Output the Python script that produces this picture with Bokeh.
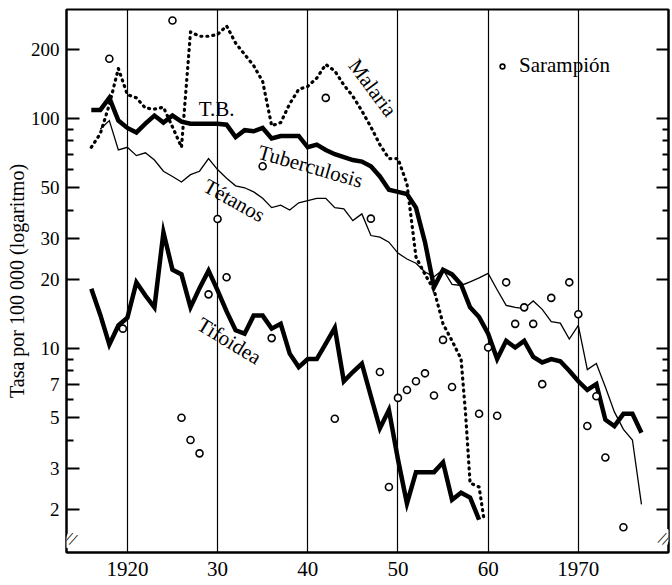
from bokeh.plotting import figure
from bokeh.models import (Range1d, FixedTicker, LogAxis, Label, Legend, LegendItem,
                          CustomJSTickFormatter)
from bokeh.embed import file_html
from bokeh.resources import INLINE

FONT = "Liberation Serif"

# ---------------- data ----------------
years_tb = list(range(1916, 1978))
tuberculosis = [109, 109, 123, 98, 91, 87, 95, 103, 96, 103,
                97, 95, 95, 95, 95, 94, 83, 89, 88, 91,
                82, 84, 84, 84, 75, 77, 73, 70, 68, 66,
                65, 62, 56, 49, 48, 47, 41, 29, 18.5, 22,
                21, 19, 15.1, 13.7, 11.6, 9.0, 10.8, 10.1, 10.8, 9.2,
                8.7, 9.0, 8.8, 8.0, 7.2, 6.6, 7.0, 4.9, 4.6, 5.2,
                5.2, 4.3]

years_tet = list(range(1917, 1978))
tetanos = [90, 98, 73, 75, 69, 71, 66, 59, 56, 53,
           57, 59, 67, 60, 55, 51, 50, 48, 45, 41,
           42, 40, 43, 44, 45, 45, 41, 40.5, 36, 38.5,
           31, 30.5, 29, 26, 24.5, 23.5, 21.5, 20.5, 22, 19,
           18.8, 19.5, 20.3, 21.2, 18, 15.4, 15.1, 14.9, 16.1, 14.8,
           13.1, 12.9, 11, 12.6, 8.1, 8.6, 6.8, 5.3, 4.45, 4.0,
           2.1]

years_mal = list(range(1916, 1958)) + [1957.5, 1958, 1959, 1959.5]
malaria = [75, 86, 115, 165, 127, 123, 111, 110, 112, 92,
           75, 238, 228, 228, 232, 253, 213, 190, 170, 145,
           93, 96, 116, 134, 138, 150, 172, 161, 140, 125,
           108, 92, 77, 67, 67, 52, 25, 21, 18, 12.8,
           10.8, 9.0, 5.2, 2.6, 2.5, 1.85]

years_tif = list(range(1916, 1960))
tifoidea = [18.2, 14, 10.4, 12.6, 13.6, 19.4, 17, 15.1, 32, 22,
            21, 15.1, 18.3, 21.8, 17.9, 14.5, 12, 11.6, 13.9, 13.9,
            12.2, 12.8, 9.5, 8.3, 9.0, 9.0, 10.5, 12.3, 7.2, 7.9,
            8.6, 6.2, 4.5, 5.4, 3.3, 2.12, 2.9, 2.9, 2.9, 3.2,
            2.2, 2.36, 2.25, 1.8]

years_sar = [1918, 1919.5, 1925, 1926, 1927, 1928, 1929, 1930, 1931, 1935,
             1936, 1942, 1943, 1947, 1948, 1949, 1950, 1951, 1952, 1953,
             1954, 1955, 1956, 1959, 1960, 1961, 1962, 1963, 1964, 1965,
             1966, 1967, 1969, 1970, 1971, 1972, 1973, 1975]
sarampion = [182, 12.2, 267, 5.0, 4.0, 3.5, 17.2, 36.6, 20.4, 62,
             11.1, 123, 4.95, 36.7, 7.9, 2.5, 6.1, 6.6, 7.2, 7.8,
             6.25, 10.9, 6.8, 5.2, 10.1, 5.1, 19.4, 12.8, 15.1, 12.8,
             7.0, 16.6, 19.4, 14.1, 4.6, 6.2, 3.36, 1.67]

x_ticks = [1920, 1930, 1940, 1950, 1960, 1970]
x_tick_labels = ["1920", "30", "40", "50", "60", "1970"]
y_major = [2, 3, 5, 7, 10, 20, 30, 50, 100, 200]
y_minor = [4, 6, 8, 9, 40, 60, 70, 80, 90]

# ---------------- figure ----------------
p = figure(width=672, height=585, y_axis_type="log",
           x_range=Range1d(1913.25, 1980.0), y_range=Range1d(1.297, 298),
           output_backend="svg", toolbar_location=None,
           min_border_left=66, min_border_right=4, min_border_top=9,
           min_border_bottom=33, background_fill_color="white",
           border_fill_color="white")
p.outline_line_color = "black"
p.outline_line_width = 2

xt = FixedTicker(ticks=x_ticks)
p.xaxis.ticker = xt
p.xgrid.ticker = xt
p.xaxis.major_label_overrides = {t: s for t, s in zip(x_ticks, x_tick_labels)}
p.xaxis.major_tick_in = 0
p.xaxis.major_tick_out = 0
p.xaxis.minor_tick_in = 0
p.xaxis.minor_tick_out = 0
p.xaxis.axis_line_width = 2
p.xaxis.major_label_standoff = 9
p.xaxis.major_label_text_font = FONT
p.xaxis.major_label_text_font_size = "21px"
p.xaxis.major_label_text_color = "black"
p.xgrid.grid_line_color = "black"
p.xgrid.grid_line_width = 1.2
p.ygrid.grid_line_color = None

yt = FixedTicker(ticks=y_major, minor_ticks=y_minor)
p.yaxis.ticker = yt
p.yaxis.major_label_overrides = {t: str(t) for t in y_major}
p.yaxis.major_tick_in = 13
p.yaxis.major_tick_out = 0
p.yaxis.minor_tick_in = 7
p.yaxis.minor_tick_out = 0
p.yaxis.major_tick_line_width = 2
p.yaxis.minor_tick_line_width = 2
p.yaxis.axis_line_width = 2
p.yaxis.major_label_standoff = 7
p.yaxis.major_label_text_font = FONT
p.yaxis.major_label_text_font_size = "19px"
p.yaxis.major_label_text_color = "black"
p.yaxis.axis_label = "Tasa por 100 000 (logaritmo)"
p.yaxis.axis_label_text_font = FONT
p.yaxis.axis_label_text_font_style = "normal"
p.yaxis.axis_label_text_font_size = "20px"
p.yaxis.axis_label_text_color = "black"
p.yaxis.axis_label_standoff = 0

right = LogAxis(ticker=FixedTicker(ticks=y_major, minor_ticks=y_minor),
                formatter=CustomJSTickFormatter(code="return ''"))
right.major_tick_in = 12
right.major_tick_out = 0
right.minor_tick_in = 6
right.minor_tick_out = 0
right.major_tick_line_width = 2
right.minor_tick_line_width = 2
right.axis_line_width = 2
right.major_label_standoff = 0
p.add_layout(right, "right")

# ---------------- series ----------------
p.line(years_tet, tetanos, line_color="black", line_width=1.3, line_join="miter")
p.line(years_tb, tuberculosis, line_color="black", line_width=4.5, line_join="miter")
p.line(years_tif, tifoidea, line_color="black", line_width=4.5, line_join="miter")
p.line(years_mal, malaria, line_color="black", line_width=3.2, line_dash="1 5",
       line_cap="round", line_join="round")
sar = p.scatter(years_sar, sarampion, marker="circle", size=7, fill_color="white",
                line_color="black", line_width=1.6)

legend = Legend(items=[LegendItem(label="Sarampión", renderers=[sar])],
                location=(430, 474), border_line_color=None,
                background_fill_alpha=0, label_text_font=FONT,
                label_text_font_size="21px", label_text_color="black",
                padding=0, margin=0,
                glyph_width=12, glyph_height=20, label_standoff=11)
p.add_layout(legend)

# ---------------- in-chart labels ----------------
def lab(x, y, text, angle=0.0):
    p.add_layout(Label(x=x, y=y, text=text, angle=angle, text_font=FONT,
                       text_font_size="21px", text_align="center",
                       text_baseline="middle", text_color="black"))

lab(1929.9, 110, "T.B.")
lab(1940.3, 62, "Tuberculosis", -0.28)
lab(1931.85, 44, "Tétanos", -0.51)
lab(1931.3, 10.8, "Tifoidea", -0.55)
lab(1947.2, 136, "Malaria", -0.93)

# axis break marks
for bx in (1913.75, 1979.55):
    p.add_layout(Label(x=bx, y=1.49, text="//", text_font=FONT,
                       text_font_size="18px", text_align="center",
                       text_baseline="middle", angle=-0.4,
                       background_fill_color="white", text_color="black"))

open("out.html", "w").write(file_html(p, INLINE))
